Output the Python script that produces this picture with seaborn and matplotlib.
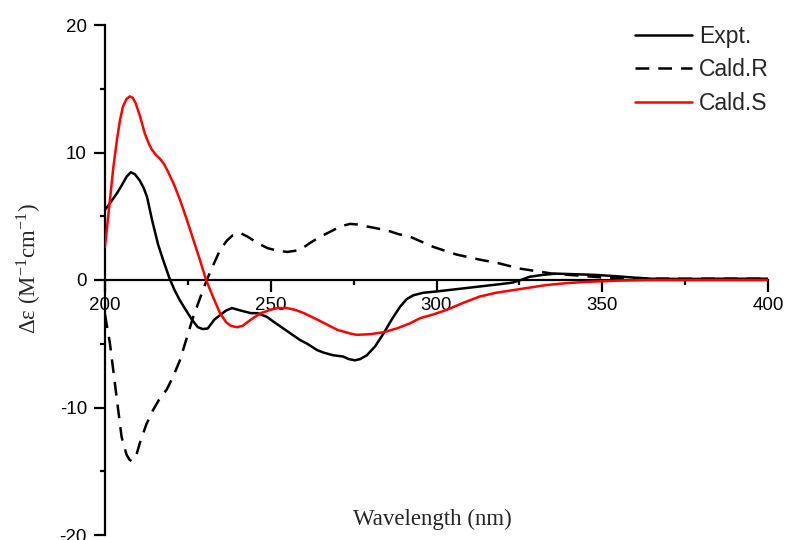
import pandas as pd
import seaborn as sns
import matplotlib.pyplot as plt
from matplotlib.ticker import MultipleLocator

# Experimental ECD
expt_wl = [200, 202, 203.6, 205, 206.5, 207.8, 209, 210.5, 211.7, 212.7, 214.2, 216, 217.5,
           219.5, 221, 222.6, 224.5, 226.2, 228, 229.5, 231, 233, 235, 236.5, 238.3, 241,
           244, 246, 248.9, 251, 253.8, 256, 258.8, 261, 264, 266, 268.8, 271.8, 273.5,
           275.4, 277, 279, 281.5, 284, 286.5, 289, 291, 293, 296, 300, 305, 310,
           315, 320, 323, 326, 328, 332, 336, 342, 348, 354, 359, 365, 375, 385,
           395, 400]
expt_de = [5.5, 6.2, 6.8, 7.4, 8.1, 8.45, 8.3, 7.8, 7.2, 6.5, 4.7, 2.8, 1.6,
           0.1, -0.8, -1.6, -2.4, -3.1, -3.7, -3.85, -3.8, -3.1, -2.7, -2.4, -2.2, -2.4,
           -2.6, -2.6, -2.9, -3.3, -3.8, -4.2, -4.7, -5.0, -5.5, -5.7, -5.9, -6.0, -6.2,
           -6.3, -6.2, -5.9, -5.2, -4.2, -3.1, -2.1, -1.5, -1.2, -1.0, -0.9, -0.75, -0.6,
           -0.45, -0.3, -0.2, 0.05, 0.25, 0.4, 0.5, 0.45, 0.4, 0.3, 0.2, 0.1, 0.08, 0.1,
           0.1, 0.1]

# Calculated ECD, R configuration
r_wl = [200, 201.5, 203.6, 205, 206.5, 207.4, 208, 208.8, 209.6, 210.5, 212.5, 214.5,
        216.5, 218.6, 220.5, 222.6, 224.6, 226.6, 228.7, 230.7, 232.7, 234.7, 236.8,
        238.5, 240.7, 243, 246, 249, 252, 255, 258.8, 261.8, 265, 268.8, 271, 273.9,
        276.5, 279, 282, 285, 288.5, 292, 295.5, 299, 302.5, 306, 309.5, 313, 316,
        319, 325, 330, 335, 340, 345, 350, 360, 370, 380, 390, 400]
r_de = [-2.7, -5.0, -9.4, -12.3, -13.7, -14.1, -14.2, -14.05, -13.6, -12.8, -11.3, -10.2,
        -9.3, -8.6, -7.6, -6.3, -4.6, -2.9, -1.4, 0.0, 1.2, 2.35, 3.1,
        3.5, 3.7, 3.4, 2.9, 2.5, 2.3, 2.2, 2.35, 2.9, 3.4, 3.9, 4.2, 4.4,
        4.35, 4.2, 4.05, 3.9, 3.6, 3.4, 3.0, 2.6, 2.3, 2.0, 1.8, 1.6, 1.45,
        1.3, 0.9, 0.7, 0.5, 0.4, 0.3, 0.2, 0.1, 0.1, 0.1, 0.1, 0.1]

# Calculated ECD, S configuration
s_wl = [200, 200.8, 201.5, 202.5, 203.6, 204.5, 205.4, 206.5, 207.5, 208.3, 209.2, 210.5,
        212, 213.2, 214.2, 215.4, 216.6, 217.8, 219, 220.8, 222.6, 224.6, 226.6, 228.6,
        230.5, 232.7, 234.7, 236.5, 238, 239.8, 241.5, 243, 244.6, 247, 249.8, 252,
        254.9, 257.5, 260, 264, 267, 270, 274, 276, 280, 284, 288, 292, 295, 299,
        303, 308, 313, 318, 323, 328, 333, 339, 345, 350, 355, 365, 380, 400]
s_de = [2.6, 4.6, 6.3, 8.8, 11.0, 12.5, 13.6, 14.2, 14.4, 14.3, 13.9, 12.9,
        11.5, 10.7, 10.2, 9.8, 9.5, 9.1, 8.5, 7.5, 6.3, 4.8, 3.2, 1.6,
        0.0, -1.4, -2.6, -3.3, -3.6, -3.7, -3.6, -3.3, -3.0, -2.6, -2.35, -2.2,
        -2.2, -2.35, -2.6, -3.1, -3.5, -3.9, -4.2, -4.3, -4.25, -4.1, -3.8, -3.4, -3.0, -2.7,
        -2.35, -1.8, -1.3, -1.0, -0.8, -0.6, -0.4, -0.25, -0.15, -0.1, -0.05, 0.0, 0.0, 0.0]

x_ticks = [200, 250, 300, 350, 400]
y_ticks = [-20, -10, 0, 10, 20]

sns.set_style('ticks')
plt.rcParams['font.family'] = ['Liberation Sans', 'DejaVu Sans']
plt.rcParams['mathtext.fontset'] = 'stix'
plt.rcParams['axes.unicode_minus'] = False

fig = plt.figure(figsize=(7.87, 5.40), dpi=100)
ax = fig.add_axes([105 / 787, 5 / 540, 663 / 787, 510 / 540])

df_e = pd.DataFrame({'wl': expt_wl, 'de': expt_de})
df_r = pd.DataFrame({'wl': r_wl, 'de': r_de})
df_s = pd.DataFrame({'wl': s_wl, 'de': s_de})

sns.lineplot(data=df_e, x='wl', y='de', ax=ax, color='black', lw=1.8, label='Expt.')
sns.lineplot(data=df_r, x='wl', y='de', ax=ax, color='black', lw=1.8,
             linestyle=(0, (5.5, 3.6)), label='Cald.R')
sns.lineplot(data=df_s, x='wl', y='de', ax=ax, color='#ff0000', lw=1.8, label='Cald.S')

ax.set_xlim(200, 400)
ax.set_ylim(-20, 20)
ax.set_xticks(x_ticks)
ax.set_yticks(y_ticks)
ax.xaxis.set_minor_locator(MultipleLocator(25))
ax.yaxis.set_minor_locator(MultipleLocator(5))

ax.spines['top'].set_visible(False)
ax.spines['right'].set_visible(False)
ax.spines['bottom'].set_position(('data', 0))
for s in ['left', 'bottom']:
    ax.spines[s].set_linewidth(1.6)
    ax.spines[s].set_color('black')
    ax.spines[s].set_zorder(1)

ax.tick_params(axis='both', which='both', color='black', labelcolor='black')
ax.tick_params(axis='x', which='major', direction='out', length=8.5, width=1.6,
               pad=4, labelsize=13.5)
ax.tick_params(axis='x', which='minor', direction='out', length=3.5, width=1.6)
ax.tick_params(axis='y', which='major', direction='out', length=8, width=1.6,
               pad=5, labelsize=13.5)
ax.tick_params(axis='y', which='minor', direction='out', length=3.5, width=1.6)

ax.set_xlabel('')
ax.set_ylabel('')
fig.text(432 / 787, 1 - 525 / 540, 'Wavelength (nm)', ha='center', va='baseline',
         fontsize=16.5, family='Liberation Serif')
fig.text(29 / 787, 1 - 268 / 540, 'Δε (M$^{\\mathregular{-1}}$cm$^{\\mathregular{-1}}$)',
         rotation=90, ha='center', va='center', fontsize=16.5, family='Liberation Serif')

ax.legend(loc='upper left', bbox_to_anchor=(635 / 787, 1 - 25 / 540),
          bbox_transform=fig.transFigure, frameon=False, fontsize=16.5,
          borderpad=0, borderaxespad=0, handlelength=2.5, handletextpad=0.3,
          labelspacing=0.45)

fig.savefig('out.png', dpi=100)
